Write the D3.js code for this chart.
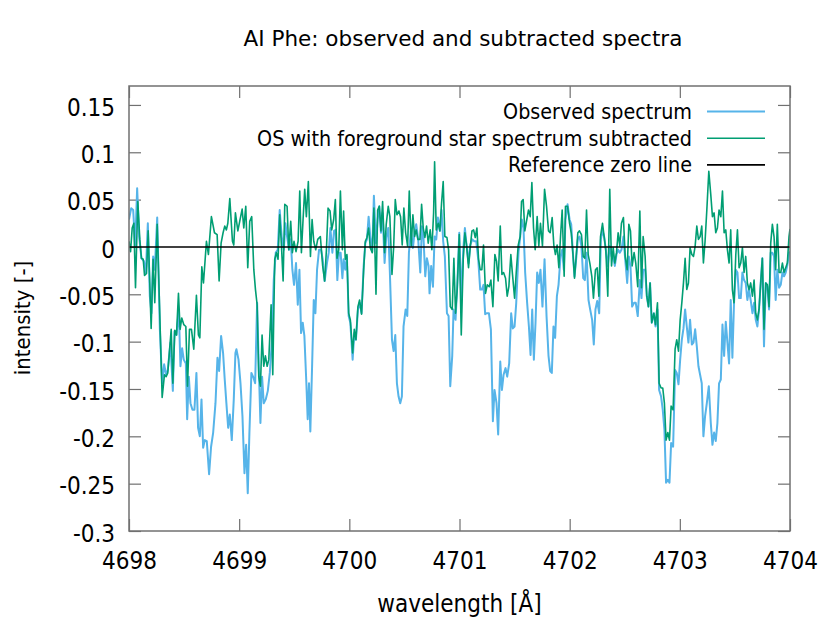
<!DOCTYPE html>
<html>
<head>
<meta charset="utf-8">
<script src="https://cdn.jsdelivr.net/npm/d3@7"></script>
<style>
  body { margin: 0; background: #fff; }
  text { font-family: "DejaVu Sans Condensed", "DejaVu Sans", sans-serif; }
</style>
</head>
<body>
<div id="chart"></div>
<script>
// ---------------- data ----------------
const obsWave = [
  4698.000, 4698.020, 4698.038, 4698.056, 4698.074, 4698.092, 4698.113, 4698.135, 4698.153, 4698.171,
  4698.189, 4698.204, 4698.219, 4698.234, 4698.256, 4698.280, 4698.301, 4698.319, 4698.337, 4698.352,
  4698.376, 4698.398, 4698.413, 4698.431, 4698.452, 4698.467, 4698.482, 4698.497, 4698.516, 4698.528,
  4698.543, 4698.558, 4698.576, 4698.594, 4698.612, 4698.627, 4698.643, 4698.658, 4698.673, 4698.688,
  4698.706, 4698.727, 4698.745, 4698.764, 4698.785, 4698.803, 4698.818, 4698.836, 4698.854, 4698.869,
  4698.884, 4698.900, 4698.915, 4698.933, 4698.951, 4698.966,
  4698.975, 4698.994, 4699.012, 4699.030, 4699.048, 4699.063, 4699.078, 4699.093, 4699.111, 4699.130,
  4699.145, 4699.163, 4699.178, 4699.193, 4699.208, 4699.223, 4699.241, 4699.260, 4699.278, 4699.296,
  4699.314, 4699.332, 4699.350, 4699.368, 4699.386, 4699.405, 4699.420, 4699.435, 4699.453, 4699.468,
  4699.483, 4699.498, 4699.516, 4699.532, 4699.547, 4699.562, 4699.577, 4699.592, 4699.610, 4699.622,
  4699.634, 4699.646, 4699.662, 4699.677, 4699.692, 4699.707, 4699.725, 4699.743, 4699.758, 4699.776,
  4699.797, 4699.813, 4699.828, 4699.846, 4699.861, 4699.876, 4699.891, 4699.906, 4699.921, 4699.937,
  4699.948, 4699.963, 4699.978, 4699.994, 4700.009, 4700.030, 4700.045, 4700.060, 4700.078, 4700.093,
  4700.111, 4700.130, 4700.145, 4700.160, 4700.175, 4700.190, 4700.208, 4700.223, 4700.242, 4700.257,
  4700.272, 4700.287, 4700.302, 4700.320, 4700.335, 4700.353, 4700.368, 4700.387, 4700.402, 4700.417,
  4700.432, 4700.447, 4700.462, 4700.477, 4700.492, 4700.511, 4700.526, 4700.541, 4700.559, 4700.577,
  4700.592, 4700.607, 4700.625, 4700.644, 4700.659, 4700.674, 4700.689, 4700.704, 4700.719, 4700.728,
  4700.743, 4700.759, 4700.774, 4700.789, 4700.804, 4700.822, 4700.837, 4700.852, 4700.867, 4700.886,
  4700.901, 4700.916, 4700.934,
  4700.946, 4700.964, 4700.979, 4700.998, 4701.016, 4701.034, 4701.049, 4701.064, 4701.082, 4701.097,
  4701.116, 4701.134, 4701.152, 4701.170, 4701.188, 4701.203, 4701.218, 4701.233, 4701.249, 4701.267,
  4701.285, 4701.303, 4701.318, 4701.336, 4701.351, 4701.370, 4701.385, 4701.400, 4701.418, 4701.433,
  4701.451, 4701.469, 4701.484, 4701.500, 4701.515, 4701.536, 4701.551, 4701.566, 4701.581, 4701.596,
  4701.614, 4701.630, 4701.645, 4701.660, 4701.675, 4701.690, 4701.705, 4701.720, 4701.735, 4701.753,
  4701.772, 4701.790, 4701.808, 4701.823, 4701.838, 4701.853, 4701.868, 4701.884, 4701.899, 4701.917,
  4701.932,
  4701.947, 4701.962, 4701.981, 4701.999, 4702.014, 4702.029, 4702.044, 4702.059, 4702.074, 4702.089,
  4702.107, 4702.123, 4702.138, 4702.153, 4702.171, 4702.186, 4702.204, 4702.219, 4702.234, 4702.250,
  4702.268, 4702.283, 4702.298, 4702.313, 4702.328, 4702.346, 4702.364, 4702.380, 4702.395, 4702.410,
  4702.425, 4702.440, 4702.455, 4702.470, 4702.488, 4702.504, 4702.522, 4702.537, 4702.552, 4702.567,
  4702.585, 4702.600, 4702.618, 4702.637, 4702.652, 4702.667, 4702.685, 4702.700, 4702.715, 4702.730,
  4702.745, 4702.764, 4702.779, 4702.797, 4702.812, 4702.830, 4702.845, 4702.860, 4702.875, 4702.891,
  4702.906, 4702.921, 4702.939,
  4702.957, 4702.972, 4702.988, 4703.003, 4703.018, 4703.033, 4703.048, 4703.063, 4703.078, 4703.093,
  4703.109, 4703.124, 4703.139, 4703.154, 4703.169, 4703.184, 4703.199, 4703.214, 4703.229, 4703.245,
  4703.263, 4703.281, 4703.296, 4703.311, 4703.326, 4703.341, 4703.356, 4703.372, 4703.387, 4703.402,
  4703.417, 4703.432, 4703.447, 4703.462, 4703.477, 4703.492, 4703.508, 4703.523, 4703.538, 4703.553,
  4703.568, 4703.583, 4703.598, 4703.613, 4703.628, 4703.643, 4703.659, 4703.674, 4703.689, 4703.704,
  4703.719, 4703.734, 4703.749, 4703.764, 4703.780, 4703.795, 4703.810, 4703.825, 4703.840, 4703.855,
  4703.870, 4703.885, 4703.901, 4703.916, 4703.931, 4703.946, 4703.961, 4703.976, 4703.991, 4704.000
];
const obsInt = [
  0.029, 0.041, 0.039, 0.001, 0.062, 0.011, -0.012, -0.015, -0.027, 0.025,
  -0.052, -0.070, -0.010, -0.024, 0.031, -0.087, -0.144, -0.124, -0.135, -0.130,
  -0.101, -0.152, -0.089, -0.093, -0.066, -0.126, -0.107, -0.119, -0.123, -0.182,
  -0.137, -0.165, -0.172, -0.172, -0.133, -0.191, -0.200, -0.161, -0.212, -0.204,
  -0.205, -0.240, -0.211, -0.196, -0.165, -0.117, -0.131, -0.094, -0.112, -0.140,
  -0.165, -0.191, -0.177, -0.204, -0.161, -0.112,
  -0.108, -0.119, -0.144, -0.179, -0.239, -0.209, -0.260, -0.196, -0.133, -0.138,
  -0.144, -0.059, -0.126, -0.186, -0.137, -0.165, -0.161, -0.152, -0.133, -0.101,
  -0.035, -0.006, -0.003, 0.039, 0.011, -0.003, 0.025, 0.011, -0.003, 0.008,
  -0.024, -0.040, -0.017, -0.061, -0.024, -0.091, -0.080, -0.094, -0.144, -0.182,
  -0.144, -0.195, -0.126, -0.056, -0.070, -0.024, -0.003, -0.003, -0.013, -0.036,
  -0.017, -0.006, 0.020, -0.006, 0.017, 0.018, -0.035, -0.006, -0.006, -0.033,
  -0.013, -0.024, -0.010, -0.073, -0.080, -0.119, -0.091, -0.098, -0.066, -0.059,
  -0.070, -0.020, 0.004, 0.008, 0.032, 0.011, -0.005, 0.054, 0.004, 0.029,
  0.043, 0.015, 0.036, -0.017, 0.010, 0.020, -0.027, -0.098, -0.110, -0.093,
  -0.144, -0.158, -0.165, -0.158, -0.084, -0.066, -0.073, -0.006, 0.017, -0.001,
  0.015, 0.024, 0.008, -0.027, 0.022, 0.008, -0.031, -0.012, -0.020, -0.049,
  -0.020, -0.042, 0.011, 0.008, 0.031, 0.017, 0.039, 0.006, -0.010, -0.070,
  -0.073, -0.147, -0.115,
  -0.066, -0.077, -0.042, 0.015, -0.056, -0.003, 0.020, 0.002, -0.017, 0.002,
  0.008, 0.006, 0.006, -0.013, -0.045, -0.045, -0.040, -0.071, -0.070, -0.070,
  -0.087, -0.184, -0.151, -0.165, -0.198, -0.121, -0.151, -0.135, -0.128, -0.137,
  -0.123, -0.070, -0.086, -0.084, -0.059, -0.005, 0.011, 0.029, 0.020, -0.027,
  -0.059, -0.084, -0.114, -0.066, -0.119, -0.080, -0.027, -0.038, -0.024, -0.063,
  -0.013, -0.073, -0.115, -0.131, -0.133, -0.084, -0.096, -0.052, -0.040, -0.010,
  -0.003,
  -0.024, 0.029, 0.045, 0.029, 0.024, -0.006, -0.031, -0.013, 0.008, 0.011,
  0.001, -0.033, -0.035, -0.006, -0.056, -0.066, -0.077, -0.103, -0.066, -0.057,
  -0.070, 0.008, 0.017, 0.011, -0.003, -0.020, 0.001, -0.010, -0.010, -0.020,
  -0.008, -0.003, -0.006, -0.003, 0.011, -0.013, -0.038, -0.010, -0.020, -0.063,
  -0.059, -0.059, -0.073, -0.035, -0.054, -0.024, -0.024, -0.052, -0.063, -0.038,
  -0.080, -0.070, -0.084, -0.066, -0.151, -0.158, -0.172, -0.193, -0.249, -0.246,
  -0.249, -0.207, -0.211,
  -0.130, -0.133, -0.145, -0.119, -0.098, -0.086, -0.066, -0.084, -0.101, -0.077,
  -0.103, -0.101, -0.087, -0.105, -0.126, -0.135, -0.144, -0.200, -0.179, -0.165,
  -0.147, -0.186, -0.209, -0.196, -0.205, -0.186, -0.144, -0.140, -0.082, -0.115,
  -0.079, -0.101, -0.123, -0.056, -0.117, -0.059, -0.024, -0.027, -0.054, -0.054,
  -0.027, -0.035, -0.038, -0.056, -0.045, -0.056, -0.070, -0.059, -0.077, -0.084,
  -0.066, -0.038, -0.012, -0.105, -0.038, -0.042, -0.066, -0.006, -0.006, -0.010,
  -0.056, -0.024, -0.043, -0.040, -0.027, -0.031, -0.027, -0.019, -0.006, -0.005
];

const subWave = [
  4698.000, 4698.014, 4698.029, 4698.044, 4698.059, 4698.080, 4698.098, 4698.113, 4698.129, 4698.141,
  4698.159, 4698.174, 4698.201, 4698.219, 4698.234, 4698.256, 4698.301, 4698.322, 4698.337, 4698.352,
  4698.383, 4698.398, 4698.416, 4698.431, 4698.449, 4698.464, 4698.479, 4698.497, 4698.516, 4698.531,
  4698.549, 4698.567, 4698.588, 4698.612, 4698.630, 4698.643, 4698.661, 4698.676, 4698.703, 4698.721,
  4698.748, 4698.776, 4698.800, 4698.818, 4698.836, 4698.854, 4698.869, 4698.884, 4698.897, 4698.915,
  4698.939, 4698.951, 4698.966,
  4698.988, 4699.005, 4699.027, 4699.042, 4699.060, 4699.078, 4699.096, 4699.114, 4699.133, 4699.148,
  4699.163, 4699.178, 4699.193, 4699.208, 4699.223, 4699.238, 4699.254, 4699.269, 4699.290, 4699.305,
  4699.323, 4699.338, 4699.353, 4699.368, 4699.384, 4699.399, 4699.414, 4699.435, 4699.450, 4699.468,
  4699.483, 4699.498, 4699.516, 4699.535, 4699.550, 4699.565, 4699.580, 4699.595, 4699.610, 4699.628,
  4699.647, 4699.662, 4699.677, 4699.695, 4699.713, 4699.737, 4699.758, 4699.776, 4699.792, 4699.807,
  4699.825, 4699.840, 4699.858, 4699.873, 4699.888, 4699.904, 4699.919, 4699.937,
  4699.948, 4699.963, 4699.978, 4699.994, 4700.009, 4700.030, 4700.045, 4700.060, 4700.078, 4700.093,
  4700.111, 4700.130, 4700.145, 4700.160, 4700.175, 4700.190, 4700.208, 4700.223, 4700.242, 4700.257,
  4700.272, 4700.287, 4700.302, 4700.320, 4700.335, 4700.353, 4700.368, 4700.387, 4700.402, 4700.417,
  4700.432, 4700.450, 4700.465, 4700.480, 4700.495, 4700.511, 4700.529, 4700.544, 4700.562, 4700.577,
  4700.592, 4700.607, 4700.622, 4700.641, 4700.656, 4700.671, 4700.686, 4700.701, 4700.716, 4700.734,
  4700.749, 4700.765, 4700.774, 4700.789, 4700.807, 4700.822, 4700.837, 4700.852, 4700.867, 4700.886,
  4700.901, 4700.916, 4700.934,
  4700.949, 4700.964, 4700.979, 4700.998, 4701.016, 4701.034, 4701.049, 4701.064, 4701.082, 4701.097,
  4701.113, 4701.128, 4701.143, 4701.158, 4701.173, 4701.188, 4701.203, 4701.218, 4701.236, 4701.252,
  4701.270, 4701.285, 4701.303, 4701.321, 4701.336, 4701.351, 4701.370, 4701.385, 4701.400, 4701.418,
  4701.433, 4701.448, 4701.466, 4701.481, 4701.500, 4701.515, 4701.533, 4701.551, 4701.563, 4701.578,
  4701.593, 4701.611, 4701.626, 4701.642, 4701.657, 4701.672, 4701.687, 4701.705, 4701.720, 4701.735,
  4701.753, 4701.772, 4701.790, 4701.808, 4701.823, 4701.841, 4701.856, 4701.871, 4701.886, 4701.902,
  4701.917, 4701.932, 4701.950,
  4701.962, 4701.981, 4701.999, 4702.014, 4702.029, 4702.044, 4702.059, 4702.074, 4702.089, 4702.107,
  4702.123, 4702.138, 4702.153, 4702.168, 4702.183, 4702.201, 4702.216, 4702.234, 4702.250, 4702.265,
  4702.280, 4702.298, 4702.313, 4702.328, 4702.346, 4702.364, 4702.380, 4702.395, 4702.410, 4702.425,
  4702.440, 4702.455, 4702.470, 4702.488, 4702.504, 4702.522, 4702.537, 4702.552, 4702.567, 4702.585,
  4702.600, 4702.618, 4702.637, 4702.652, 4702.667, 4702.685, 4702.700, 4702.715, 4702.730, 4702.745,
  4702.764, 4702.779, 4702.797, 4702.812, 4702.830, 4702.845, 4702.860, 4702.875, 4702.891, 4702.906,
  4702.921, 4702.939,
  4702.957, 4702.972, 4702.988, 4703.003, 4703.018, 4703.033, 4703.048, 4703.063, 4703.078, 4703.093,
  4703.109, 4703.124, 4703.139, 4703.154, 4703.169, 4703.184, 4703.199, 4703.214, 4703.229, 4703.245,
  4703.263, 4703.281, 4703.296, 4703.311, 4703.326, 4703.341, 4703.356, 4703.372, 4703.387, 4703.402,
  4703.417, 4703.432, 4703.447, 4703.462, 4703.477, 4703.492, 4703.508, 4703.523, 4703.538, 4703.553,
  4703.568, 4703.583, 4703.598, 4703.613, 4703.628, 4703.643, 4703.659, 4703.674, 4703.689, 4703.704,
  4703.719, 4703.734, 4703.749, 4703.764, 4703.780, 4703.795, 4703.810, 4703.825, 4703.840, 4703.855,
  4703.870, 4703.885, 4703.901, 4703.916, 4703.931, 4703.946, 4703.961, 4703.976, 4703.991, 4704.000
];
const subInt = [
  0.006, -0.005, 0.020, 0.025, -0.043, 0.048, 0.008, -0.012, -0.013, -0.030,
  -0.028, 0.017, -0.086, -0.013, -0.059, 0.024, -0.159, -0.135, -0.137, -0.133,
  -0.087, -0.144, -0.088, -0.093, -0.049, -0.087, -0.075, -0.082, -0.084, -0.147,
  -0.087, -0.087, -0.108, -0.051, -0.093, -0.096, -0.021, -0.038, 0.006, -0.008,
  0.032, 0.015, 0.013, -0.036, 0.004, 0.015, 0.022, 0.018, 0.025, 0.051,
  0.006, 0.002, 0.036,
  0.017, 0.027, 0.040, 0.020, 0.043, -0.022, 0.027, 0.032, -0.024, -0.045,
  -0.061, -0.137, -0.147, -0.093, -0.126, -0.115, -0.126, -0.119, -0.061, -0.135,
  -0.013, -0.006, -0.013, 0.034, 0.001, -0.036, 0.045, 0.043, -0.003, 0.027,
  -0.006, 0.006, -0.005, 0.006, 0.059, -0.006, 0.029, 0.061, 0.032, 0.069,
  -0.010, 0.029, 0.006, -0.003, 0.008, 0.011, -0.020, -0.036, -0.003, 0.041,
  0.038, 0.018, 0.029, 0.050, -0.012, -0.003, 0.059, -0.003,
  0.038, -0.013, -0.008, -0.070, -0.077, -0.112, -0.087, -0.098, -0.063, -0.056,
  -0.071, -0.024, 0.006, 0.010, 0.020, -0.001, -0.006, 0.041, -0.050, 0.039,
  0.043, 0.017, 0.048, -0.006, 0.024, 0.043, 0.032, -0.029, -0.001, 0.050,
  0.034, 0.038, 0.032, 0.002, 0.041, 0.015, 0.001, 0.059, 0.001, 0.034,
  0.011, 0.018, 0.008, 0.008, 0.045, 0.020, 0.010, 0.022, 0.004, 0.018,
  -0.003, 0.036, 0.090, 0.018, 0.025, 0.017, 0.046, 0.069, 0.011, 0.010,
  -0.003, -0.063, -0.066,
  -0.012, -0.070, -0.045, 0.013, -0.093, -0.013, 0.015, 0.002, -0.022, -0.001,
  0.017, 0.018, 0.010, 0.020, -0.013, -0.024, -0.024, 0.002, -0.049, -0.040,
  -0.042, -0.035, -0.063, -0.008, -0.015, -0.036, 0.022, -0.029, -0.027, -0.033,
  -0.052, -0.042, -0.008, -0.029, -0.054, -0.027, 0.002, 0.011, 0.048, 0.050,
  0.017, 0.029, 0.039, 0.032, 0.068, 0.020, -0.003, 0.032, 0.001, 0.025,
  0.001, 0.061, 0.043, 0.017, 0.015, 0.031, 0.002, -0.008, 0.002, -0.022,
  0.011, 0.039, -0.031,
  0.043, 0.043, 0.025, 0.015, -0.006, -0.033, -0.010, 0.015, 0.017, 0.013,
  -0.010, -0.012, 0.039, -0.008, -0.017, -0.031, -0.054, -0.024, -0.022, -0.052,
  0.011, 0.025, 0.011, -0.003, -0.052, 0.061, -0.020, -0.001, -0.017, -0.006,
  0.015, 0.001, 0.025, 0.031, -0.010, -0.024, 0.024, 0.017, -0.020, -0.006,
  -0.017, -0.042, 0.038, -0.043, 0.011, -0.010, -0.052, -0.063, -0.038, -0.080,
  -0.070, -0.082, -0.059, -0.144, -0.149, -0.149, -0.165, -0.204, -0.196, -0.204,
  -0.168, -0.172,
  -0.108, -0.098, -0.110, -0.077, -0.059, -0.038, -0.012, -0.045, -0.038, -0.001,
  -0.008, -0.010, 0.001, 0.022, 0.008, 0.011, 0.022, -0.017, 0.006, 0.039,
  0.080, 0.055, 0.032, 0.036, 0.015, 0.020, 0.039, 0.032, 0.059, 0.015,
  0.018, -0.003, -0.017, 0.018, -0.045, -0.059, -0.008, 0.018, -0.022, -0.017,
  -0.001, -0.027, -0.010, -0.038, -0.045, -0.038, -0.052, -0.035, -0.070, -0.077,
  -0.066, -0.038, -0.012, -0.087, -0.038, -0.040, -0.063, 0.004, 0.024, 0.011,
  -0.024, 0.024, -0.027, -0.027, -0.017, -0.027, -0.022, -0.017, 0.011, 0.019
];

const xTicks = [4698, 4699, 4700, 4701, 4702, 4703, 4704];
const yTicks = [0.15, 0.1, 0.05, 0, -0.05, -0.1, -0.15, -0.2, -0.25, -0.3];
const seriesNames = ["Observed spectrum", "OS with foreground star spectrum subtracted", "Reference zero line"];
const seriesColors = ["#56b4e9", "#009e73", "#000000"];

// ---------------- layout ----------------
const width = 830, height = 623;
const margin = {top: 86, right: 40, bottom: 92, left: 129};

const svg = d3.select("#chart").append("svg")
  .attr("width", width)
  .attr("height", height);

const x = d3.scaleLinear().domain([4698, 4704]).range([margin.left, width - margin.right]);
const y = d3.scaleLinear().domain([-0.3, 0.17]).range([height - margin.bottom, margin.top]);

const fmt = d => String(d);
const tickLen = 12;
const borderColor = "#707070";

// clip for the curves
svg.append("clipPath").attr("id", "plotclip")
  .append("rect")
  .attr("x", x.range()[0]).attr("y", y.range()[1])
  .attr("width", x.range()[1] - x.range()[0])
  .attr("height", y.range()[0] - y.range()[1]);

// axes: labelled bottom / left, mirrored ticks top / right
const styleAxis = g => {
  g.select(".domain").remove();
  g.selectAll(".tick line").attr("stroke", borderColor).attr("stroke-width", 1.2);
  g.selectAll(".tick text").attr("fill", "#000").style("font-size", "24px");
};

svg.append("g")
  .attr("transform", `translate(0,${y(-0.3)})`)
  .call(d3.axisBottom(x).tickValues(xTicks).tickFormat(fmt).tickSizeInner(-tickLen).tickPadding(21))
  .call(styleAxis);

svg.append("g")
  .attr("transform", `translate(${x(4698)},0)`)
  .call(d3.axisLeft(y).tickValues(yTicks).tickFormat(fmt).tickSizeInner(-tickLen).tickPadding(14))
  .call(styleAxis)
  .call(g => g.selectAll(".tick text").attr("dy", "0.42em"));

svg.append("g")
  .attr("transform", `translate(0,${y(0.17)})`)
  .call(d3.axisTop(x).tickValues(xTicks).tickFormat("").tickSizeInner(-tickLen))
  .call(styleAxis);

svg.append("g")
  .attr("transform", `translate(${x(4704)},0)`)
  .call(d3.axisRight(y).tickValues(yTicks).tickFormat("").tickSizeInner(-tickLen))
  .call(styleAxis);

// curves
const line = d3.line()
  .x(d => x(d[0]))
  .y(d => y(d[1]));

const plot = svg.append("g").attr("clip-path", "url(#plotclip)");

plot.append("path")
  .datum(obsWave.map((w, i) => [w, obsInt[i]]))
  .attr("fill", "none")
  .attr("stroke", seriesColors[0])
  .attr("stroke-width", 2)
  .attr("stroke-linejoin", "round")
  .attr("d", line);

plot.append("path")
  .datum(subWave.map((w, i) => [w, subInt[i]]))
  .attr("fill", "none")
  .attr("stroke", seriesColors[1])
  .attr("stroke-width", 1.6)
  .attr("stroke-linejoin", "round")
  .attr("d", line);

plot.append("path")
  .datum(x.domain().map(w => [w, 0]))
  .attr("fill", "none")
  .attr("stroke", seriesColors[2])
  .attr("stroke-width", 1.5)
  .attr("d", line);

// border
svg.append("rect")
  .attr("x", x.range()[0]).attr("y", y.range()[1])
  .attr("width", x.range()[1] - x.range()[0])
  .attr("height", y.range()[0] - y.range()[1])
  .attr("fill", "none")
  .attr("stroke", borderColor)
  .attr("stroke-width", 1.5);

// legend (top right, inside)
const legend = svg.append("g");
seriesNames.forEach((name, i) => {
  const ly = 111.5 + i * 26.7;
  legend.append("text")
    .attr("x", 692).attr("y", ly)
    .attr("dy", "0.35em")
    .attr("text-anchor", "end")
    .style("font-size", "21.3px")
    .text(name);
  legend.append("line")
    .attr("x1", 707).attr("x2", 765)
    .attr("y1", ly).attr("y2", ly)
    .attr("stroke", seriesColors[i])
    .attr("stroke-width", i === 0 ? 2 : 1.6);
});

// titles
svg.append("text")
  .attr("x", 463).attr("y", 46)
  .attr("text-anchor", "middle")
  .style("font-family", "'DejaVu Sans', sans-serif")
  .style("font-size", "21.5px")
  .text("AI Phe: observed and subtracted spectra");

svg.append("text")
  .attr("x", (x.range()[0] + x.range()[1]) / 2).attr("y", 612)
  .attr("text-anchor", "middle")
  .style("font-size", "24px")
  .text("wavelength [Å]");

svg.append("text")
  .attr("transform", "translate(30,318) rotate(-90)")
  .attr("text-anchor", "middle")
  .style("font-size", "22px")
  .text("intensity [-]");
</script>
</body>
</html>
